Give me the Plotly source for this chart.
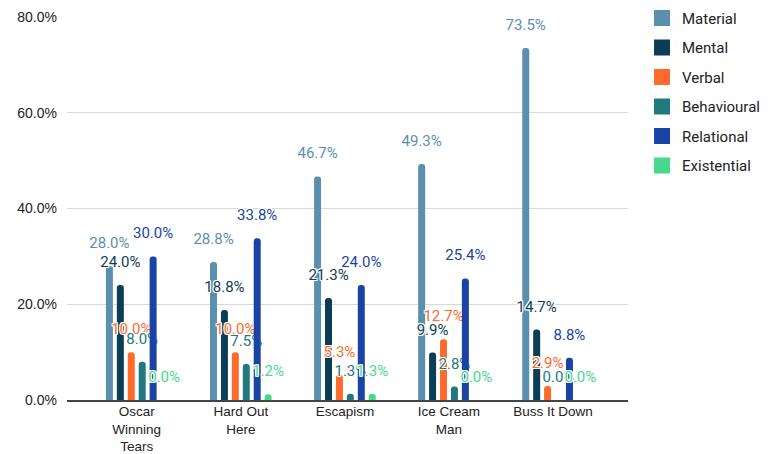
import plotly.graph_objects as go

categories = ["Oscar<br>Winning<br>Tears", "Hard Out<br>Here", "Escapism", "Ice Cream<br>Man", "Buss It Down"]
series_names = ["Material", "Mental", "Verbal", "Behavioural", "Relational", "Existential"]
material = [28.0, 28.8, 46.7, 49.3, 73.5]
mental = [24.0, 18.8, 21.3, 9.9, 14.7]
verbal = [10.0, 10.0, 5.3, 12.7, 2.9]
behavioural = [8.0, 7.5, 1.3, 2.8, 0.0]
relational = [30.0, 33.8, 24.0, 25.4, 8.8]
existential = [0.0, 1.2, 1.3, 0.0, 0.0]
series_values = [material, mental, verbal, behavioural, relational, existential]
colors = ["#5B8FAE", "#0B3E56", "#FF6B2C", "#21787F", "#1A43A6", "#47D98B"]
y_ticks = [0, 20, 40, 60, 80]

halo = ("1px 1px 0px white, -1px -1px 0px white, 1px -1px 0px white, "
        "-1px 1px 0px white, 0px 1px 0px white, 0px -1px 0px white, 1px 0px 0px white, -1px 0px 0px white")

fig = go.Figure()
for name, vals, col in zip(series_names, series_values, colors):
    fig.add_trace(go.Bar(
        x=categories, y=vals, name=name, legendgroup=name, showlegend=False,
        marker=dict(color=col, cornerradius=3, line=dict(width=0)),
        texttemplate="<span style='font-size:15px'>%{y:.1f}%</span><br> ", textposition="outside",
        constraintext="none", cliponaxis=False,
        textfont=dict(family="Roboto", size=10, color=col, shadow=halo),
        hoverinfo="skip",
    ))
# legend entries with larger square swatches
for name, col in zip(series_names, colors):
    fig.add_trace(go.Scatter(
        x=[None], y=[None], mode="markers", name=name, legendgroup=name,
        marker=dict(symbol="square", size=16, color=col, line=dict(width=0)),
        hoverinfo="skip",
    ))

fig.update_layout(
    width=770, height=454,
    margin=dict(l=67, r=142, t=17, b=54, autoexpand=False),
    paper_bgcolor="white", plot_bgcolor="white",
    barmode="group", bargap=0.37, bargroupgap=0.36,
    font=dict(family="Liberation Sans, Arial", size=14, color="#222222"),
    showlegend=True,
    legend=dict(x=1.025, xanchor="left", y=1.04, yanchor="top",
                font=dict(family="Roboto", size=15, color="#222222"),
                tracegroupgap=7, traceorder="grouped", itemwidth=30, itemsizing="trace"),
    xaxis=dict(type="category", range=[-0.67, 4.72], showgrid=False, automargin=False,
               showline=True, linecolor="#444444", linewidth=1.5, ticklabelstandoff=-2,
               ticks="", tickfont=dict(family="Liberation Sans, Arial", size=13.5, color="#222222")),
    yaxis=dict(range=[0, 80], tickvals=y_ticks, ticktext=[f"{v:.1f}%" for v in y_ticks],
               showgrid=True, gridcolor="#D9D9D9", gridwidth=1, automargin=False,
               zeroline=False, ticks="", ticklabelstandoff=9,
               tickfont=dict(family="Liberation Sans, Arial", size=14, color="#222222")),
)

fig.write_html("out.html")
